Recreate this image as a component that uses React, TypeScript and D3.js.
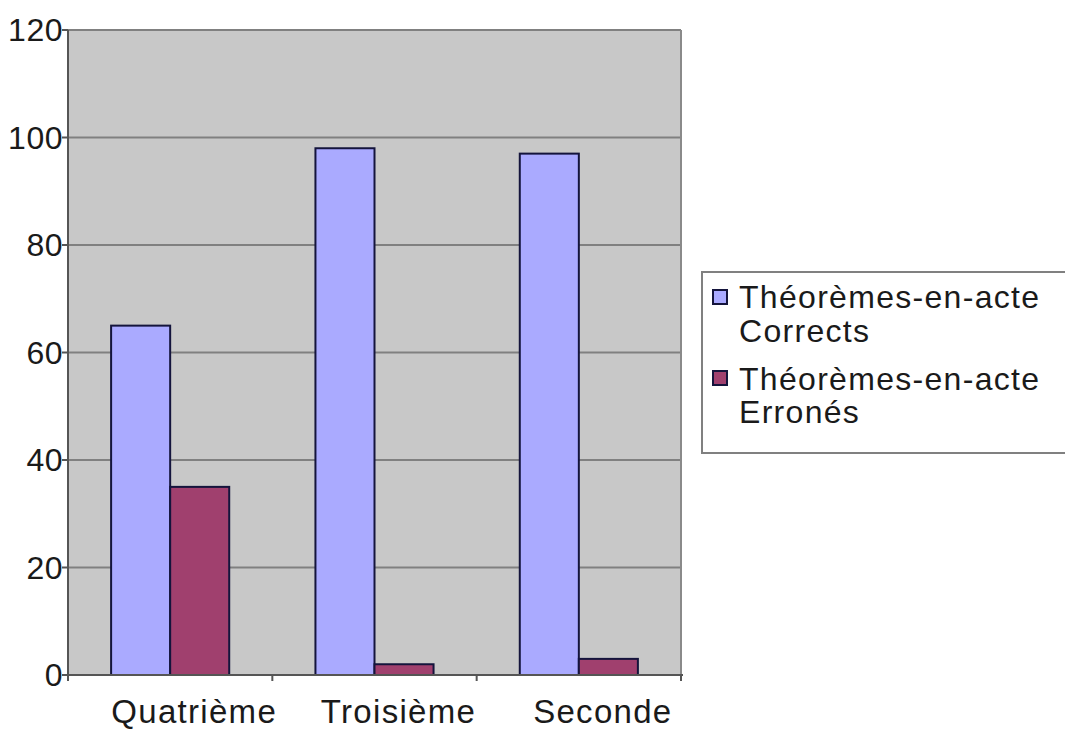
import React from "react";
import * as d3 from "d3";

const categories = ["Quatrième", "Troisième", "Seconde"];
const seriesNames = ["Théorèmes-en-acte Corrects", "Théorèmes-en-acte Erronés"];
const legendLines = [
  ["Théorèmes-en-acte", "Corrects"],
  ["Théorèmes-en-acte", "Erronés"],
];
const correctValues = [65, 98, 97];
const wrongValues = [35, 2, 3];
const yTicks = [0, 20, 40, 60, 80, 100, 120];

const colors = ["#AAAAFF", "#A0406E"];

export default function App() {
  const left = 68, right = 681, top = 30, bottom = 675;
  const x = d3.scaleBand<string>().domain(categories).range([left, right]).padding(0);
  const xs = d3.scaleBand<string>().domain(seriesNames).range([0, x.bandwidth()]).paddingInner(0).paddingOuter(0.73);
  const y = d3.scaleLinear().domain([0, 120]).range([bottom, top]);
  const series = [correctValues, wrongValues];
  const font = "'Liberation Sans', Arial, sans-serif";
  const boundaries = [left, ...categories.map((c) => (x(c) as number) + x.bandwidth())];

  return (
    <svg width={1065} height={730} style={{ position: "absolute", left: 0, top: 0, background: "#fff" }} fontFamily={font}>
      <rect x={left} y={top} width={right - left} height={bottom - top} fill="#C8C8C8" />
      {yTicks.filter((t) => t > 0).map((t) => (
        <line key={t} x1={left} x2={right} y1={y(t)} y2={y(t)} stroke="#808080" strokeWidth={2} />
      ))}
      <line x1={right} x2={right} y1={top} y2={bottom} stroke="#8a8a8a" strokeWidth={2} />
      {series.map((vals, si) =>
        categories.map((c, ci) => {
          const bx = (x(c) as number) + (xs(seriesNames[si]) as number);
          return (
            <rect
              key={si + "-" + ci}
              x={bx}
              y={y(vals[ci])}
              width={xs.bandwidth()}
              height={bottom - y(vals[ci])}
              fill={colors[si]}
              stroke="#14143C"
              strokeWidth={2}
            />
          );
        })
      )}
      <line x1={left} x2={left} y1={top} y2={bottom} stroke="#555" strokeWidth={2} />
      <line x1={left} x2={right + 2} y1={bottom} y2={bottom} stroke="#555" strokeWidth={2} />
      {yTicks.map((t) => (
        <g key={t}>
          <line x1={left - 6} x2={left} y1={y(t)} y2={y(t)} stroke="#555" strokeWidth={2} />
          <text x={left - 5} y={y(t) + 11} textAnchor="end" fontSize={32} letterSpacing={0.5} fill="#1a1a1a">
            {t}
          </text>
        </g>
      ))}
      {boundaries.map((b, i) => (
        <line key={i} x1={b} x2={b} y1={bottom} y2={bottom + 6} stroke="#555" strokeWidth={2} />
      ))}
      {categories.map((c) => (
        <text key={c} x={(x(c) as number) + x.bandwidth() / 2 + 24} y={723} textAnchor="middle" fontSize={33} letterSpacing={1.3} fill="#1a1a1a">
          {c}
        </text>
      ))}
      <rect x={702} y={272} width={372} height={181} fill="#fff" stroke="#808080" strokeWidth={2} />
      {legendLines.map((lines, i) => (
        <g key={i}>
          <rect x={713} y={290 + i * 81} width={14} height={14} fill={colors[i]} stroke="#14143C" strokeWidth={2} />
          <text x={739} y={308 + i * 82} fontSize={32} letterSpacing={1.3} fill="#1a1a1a">{lines[0]}</text>
          <text x={739} y={342 + i * 81} fontSize={32} letterSpacing={1.3} fill="#1a1a1a">{lines[1]}</text>
        </g>
      ))}
    </svg>
  );
}
